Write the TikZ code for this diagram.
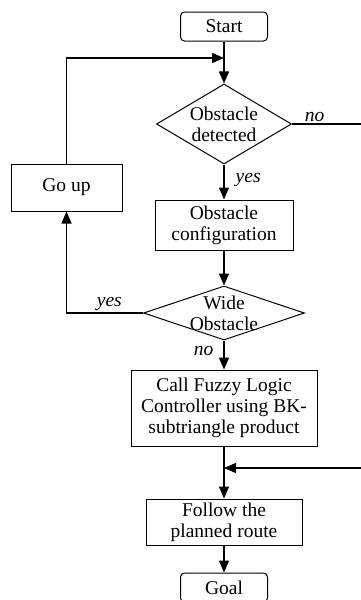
\documentclass[tikz,border=0pt]{standalone}
\usepackage{fontspec}
\setmainfont{Liberation Serif}
\usetikzlibrary{shapes,arrows.meta,positioning}

\begin{document}
\begin{tikzpicture}[x=1pt,y=-1pt,->,>={Triangle[length=12pt,width=10pt]},line width=1.4pt,
  font=\fontsize{19.5}{21}\selectfont]
\tikzstyle{block}=[draw,line width=1pt,rectangle,align=center,inner sep=0pt]
\tikzstyle{term}=[block,rounded corners=4pt,minimum width=87pt,minimum height=29pt]
\tikzstyle{decision}=[draw,line width=1pt,diamond,inner sep=0pt]
\tikzstyle{answer}=[font=\fontsize{19.5}{21}\selectfont\itshape,inner sep=2pt]
\useasboundingbox (0,0) rectangle (361,600);
\node[term] (Start) at (224,26.5) {Start};
\node[decision,minimum width=135pt,minimum height=80pt,
      label={[align=center]center:Obstacle\\detected}][below of=Start,node distance=97.5pt](Detect){};
\node[block,minimum width=138pt,minimum height=50pt][below of=Detect,node distance=101pt](Config){Obstacle\\configuration};
\node[decision,minimum width=161pt,minimum height=54pt,
      label={[align=center]center:Wide\\Obstacle}][below of=Config,node distance=88pt](Wide){};
\node[block,minimum width=186pt,minimum height=76pt][below of=Wide,node distance=95pt](Fuzzy){Call Fuzzy Logic\\Controller using BK-\\subtriangle product};
\node[block,minimum width=156pt,minimum height=46pt][below of=Fuzzy,node distance=114pt](Follow){Follow the\\planned route};
\node[term][below of=Follow,node distance=65.5pt](Goal){Goal};
\node[block,minimum width=111pt,minimum height=47pt] (GoUp) at (66.5,187.5) {Go up};
\coordinate (JoinTop) at (224,58);
\coordinate (JoinLow) at (224,468);
\coordinate (Edge) at (363,124);
% main line
\draw (Start) -- (Detect);
\draw (Detect) -- node[answer,right,xshift=9pt,pos=0.45]{yes} (Config);
\draw (Config) -- (Wide);
\draw (Wide) -- node[answer,left,xshift=-8pt,pos=0.35]{no} (Fuzzy);
\draw (Fuzzy) -- (Follow);
\draw (Follow) -- (Goal);
% side loops
\draw (Wide.west) -| node[answer,above,pos=0.22]{yes} (GoUp.south);
\draw (GoUp.north) |- (JoinTop);
\draw (Detect.east) -- node[answer,above,pos=0.32]{no} (Edge) |- (JoinLow);
\end{tikzpicture}
\end{document}
